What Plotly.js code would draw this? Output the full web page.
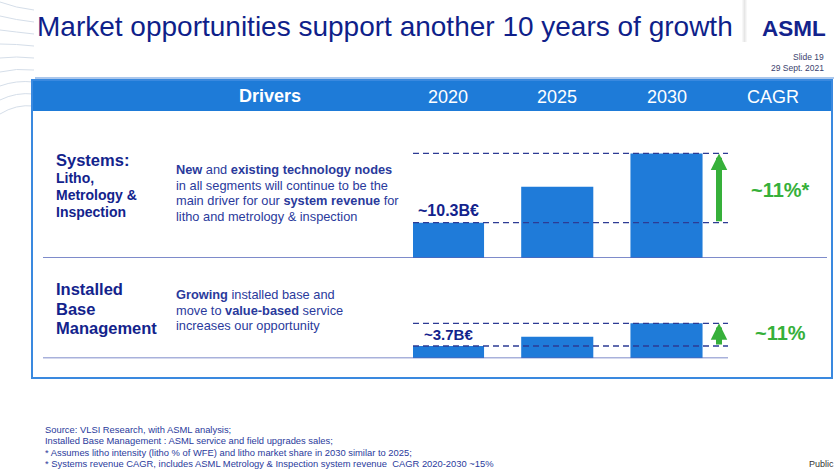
<!DOCTYPE html>
<html>
<head>
<meta charset="utf-8">
<script src="https://cdn.plot.ly/plotly-3.0.1.min.js"></script>
<style>html,body{margin:0;padding:0;background:#fff;}#chart{width:840px;height:473px;}</style>
</head>
<body>
<div id="chart"></div>
<script>
// ---- data ----
const years = ['2020', '2025', '2030'];
const systemsValues = [10.3, 20.8, 30.5];   // B€ (2020 labelled ~10.3B€)
const ibValues = [3.7, 6.5, 10.5];          // B€ (2020 labelled ~3.7B€)
const startLabels = ['~10.3B€', '~3.7B€'];
const cagrLabels = ['~11%*', '~11%'];
const headerDriver = 'Drivers';
const headerCagr = 'CAGR';
const titleText = 'Market opportunities support another 10 years of growth';
const systemsName = ['Systems:', 'Litho,', 'Metrology &', 'Inspection'];
const systemsText = ['<b>New</b> and <b>existing technology nodes</b>',
  'in all segments will continue to be the',
  'main driver for our <b>system revenue</b> for',
  'litho and metrology &amp; inspection'];
const ibName = ['Installed', 'Base', 'Management'];
const ibText = ['<b>Growing</b> installed base and',
  'move to <b>value-based</b> service',
  'increases our opportunity'];
const footnotes = ['Source: VLSI Research, with ASML analysis;',
  'Installed Base Management : ASML service and field upgrades sales;',
  '* Assumes litho intensity (litho % of WFE) and litho market share in 2030 similar to 2025;',
  '* Systems revenue CAGR, includes ASML Metrology &amp; Inspection system revenue  CAGR 2020-2030 ~15%'];

// ---- layout helpers (pixel -> paper) ----
const W = 840, H = 473;
const px = x => x / W;
const py = y => 1 - y / H;
const FONT = 'Liberation Sans, Arial, Helvetica, sans-serif';
const NAVY = '#13238c';
const TXT = '#2a3a9c';
const BLUE = '#1f7bd9';
const GREEN = '#36b03a';
const DASH = '#2d3b94';

const xLeft = 413, xRight = 728, c0 = 448, step = 109.25;
const xRange = [(xLeft - c0) / step, (xRight - c0) / step];
const arrowX = (719 - c0) / step;

const traces = [
  {type: 'bar', x: years, y: systemsValues, xaxis: 'x', yaxis: 'y', width: 0.66,
   marker: {color: BLUE, line: {width: 0}}, hoverinfo: 'skip'},
  {type: 'bar', x: years, y: ibValues, xaxis: 'x', yaxis: 'y2', width: 0.66,
   marker: {color: BLUE, line: {width: 0}}, hoverinfo: 'skip'}
];

const shapes = [];
const ann = [];

// decorative swooshes top-left
for (let i = 0; i < 9; i++) {
  const y0 = 8 + i * 12;
  shapes.push({type: 'path', xref: 'paper', yref: 'paper', layer: 'below',
    path: `M 0 ${py(y0 - 6 + i * 2)} Q ${px(16)} ${py(y0)} ${px(34)} ${py(y0 + 2)}`,
    line: {color: '#d5dee9', width: 1}});
}
// soft shadow left of logo
['#f7f7f7', '#efefef', '#e6e6e6', '#efefef', '#f7f7f7'].forEach((c, i) => {
  shapes.push({type: 'rect', xref: 'paper', yref: 'paper', x0: px(742 + i), x1: px(743 + i), y0: py(0), y1: py(42),
    fillcolor: c, line: {width: 0}, layer: 'below'});
});
// line under title
shapes.push({type: 'line', xref: 'paper', yref: 'paper', x0: px(35), x1: px(834), y0: py(78), y1: py(78),
  line: {color: '#8fb5e6', width: 1.5}});
// header bar and box
shapes.push({type: 'rect', xref: 'paper', yref: 'paper', x0: px(32), x1: px(832), y0: py(80), y1: py(111),
  fillcolor: '#1e7bd8', line: {width: 0}});
shapes.push({type: 'rect', xref: 'paper', yref: 'paper', x0: px(32), x1: px(832), y0: py(80), y1: py(378),
  fillcolor: 'rgba(0,0,0,0)', line: {color: '#3a89df', width: 2}});
// separators / baselines
shapes.push({type: 'line', xref: 'paper', yref: 'y', x0: px(43), x1: px(827), y0: 0, y1: 0,
  line: {color: '#5365b8', width: 1.5}});
shapes.push({type: 'line', xref: 'paper', yref: 'y2', x0: px(43), x1: px(728), y0: 0, y1: 0,
  line: {color: '#5365b8', width: 1.5}});
// dashed reference lines
[[systemsValues, 'y'], [ibValues, 'y2']].forEach(([vals, ya]) => {
  [vals[0], vals[vals.length - 1]].forEach(v => {
    shapes.push({type: 'line', xref: 'x domain', yref: ya, x0: 0, x1: 1, y0: v, y1: v,
      line: {color: DASH, width: 1.3, dash: '6px,4px'}});
  });
});

// arrows
[[systemsValues, 'y'], [ibValues, 'y2']].forEach(([vals, ya]) => {
  ann.push({xref: 'x', yref: ya, axref: 'x', ayref: ya, x: arrowX, y: vals[vals.length - 1],
    ax: arrowX, ay: vals[0], text: '', showarrow: true, arrowhead: 2, arrowsize: 0.55,
    arrowwidth: 6, arrowcolor: GREEN, standoff: 0, startstandoff: 0});
});

// value labels (category axis: annotations use category index)
ann.push({xref: 'x', yref: 'y', x: 0, y: systemsValues[0], yshift: 12, text: '<b>' + startLabels[0] + '</b>',
  showarrow: false, font: {family: FONT, size: 16, color: NAVY}, xanchor: 'center', yanchor: 'middle'});
ann.push({xref: 'x', yref: 'y2', x: 0, y: ibValues[0], yshift: 11, text: '<b>' + startLabels[1] + '</b>',
  showarrow: false, font: {family: FONT, size: 15, color: NAVY}, xanchor: 'center', yanchor: 'middle'});
// CAGR labels
ann.push({xref: 'paper', yref: 'paper', x: px(780), y: py(190), text: '<b>' + cagrLabels[0] + '</b>',
  showarrow: false, font: {family: FONT, size: 20, color: GREEN}, xanchor: 'center', yanchor: 'middle'});
ann.push({xref: 'paper', yref: 'paper', x: px(780), y: py(333), text: '<b>' + cagrLabels[1] + '</b>',
  showarrow: false, font: {family: FONT, size: 20, color: GREEN}, xanchor: 'center', yanchor: 'middle'});

// header texts
ann.push({xref: 'paper', yref: 'paper', x: px(270), y: py(96), text: '<b>' + headerDriver + '</b>',
  showarrow: false, font: {family: FONT, size: 18, color: '#ffffff'}, xanchor: 'center', yanchor: 'middle'});
years.forEach((yr, i) => {
  ann.push({xref: 'x', yref: 'paper', x: i, y: py(97), text: yr, showarrow: false,
    font: {family: FONT, size: 18, color: '#ffffff'}, xanchor: 'center', yanchor: 'middle'});
});
ann.push({xref: 'paper', yref: 'paper', x: px(773), y: py(97), text: headerCagr, showarrow: false,
  font: {family: FONT, size: 18, color: '#ffffff'}, xanchor: 'center', yanchor: 'middle'});

// left labels
const sysY = [160, 178, 195, 212];
systemsName.forEach((t, i) => {
  ann.push({xref: 'paper', yref: 'paper', x: px(54), y: py(sysY[i]), text: '<b>' + t + '</b>', showarrow: false,
    font: {family: FONT, size: i === 0 ? 16.5 : 14, color: NAVY}, xanchor: 'left', yanchor: 'middle'});
});
const sysTY = [169, 185, 201, 216];
systemsText.forEach((t, i) => {
  ann.push({xref: 'paper', yref: 'paper', x: px(174), y: py(sysTY[i]), text: t, showarrow: false,
    font: {family: FONT, size: 12.8, color: TXT}, xanchor: 'left', yanchor: 'middle'});
});
const ibY = [289, 309, 328];
ibName.forEach((t, i) => {
  ann.push({xref: 'paper', yref: 'paper', x: px(54), y: py(ibY[i]), text: '<b>' + t + '</b>', showarrow: false,
    font: {family: FONT, size: 16.5, color: NAVY}, xanchor: 'left', yanchor: 'middle'});
});
const ibTY = [294, 310, 325];
ibText.forEach((t, i) => {
  ann.push({xref: 'paper', yref: 'paper', x: px(174), y: py(ibTY[i]), text: t, showarrow: false,
    font: {family: FONT, size: 12.8, color: TXT}, xanchor: 'left', yanchor: 'middle'});
});

// logo + slide info
ann.push({xref: 'paper', yref: 'paper', x: px(828), y: py(28), text: '<b>ASML</b>', showarrow: false,
  font: {family: FONT, size: 22.5, color: NAVY}, xanchor: 'right', yanchor: 'middle'});
ann.push({xref: 'paper', yref: 'paper', x: px(826), y: py(57), text: 'Slide 19', showarrow: false,
  font: {family: FONT, size: 8.5, color: '#3b3f6e'}, xanchor: 'right', yanchor: 'middle'});
ann.push({xref: 'paper', yref: 'paper', x: px(826), y: py(68.5), text: '29 Sept. 2021', showarrow: false,
  font: {family: FONT, size: 8.5, color: '#3b3f6e'}, xanchor: 'right', yanchor: 'middle'});

// footnotes
const fnY = [429, 440.5, 452, 463.5];
footnotes.forEach((t, i) => {
  ann.push({xref: 'paper', yref: 'paper', x: px(43), y: py(fnY[i]), text: t, showarrow: false,
    font: {family: FONT, size: 9.4, color: TXT}, xanchor: 'left', yanchor: 'middle'});
});
ann.push({xref: 'paper', yref: 'paper', x: px(836), y: py(463.5), text: 'Public', showarrow: false,
  font: {family: FONT, size: 9, color: '#333333'}, xanchor: 'right', yanchor: 'middle'});

const sysBase = 258, sysScale = 3.43, sysMax = 40;
const ibBase = 358.3, ibScale = 3.33, ibMax = 12;

const layout = {
  width: W, height: H,
  margin: {l: 0, r: 0, t: 0, b: 0, pad: 0},
  paper_bgcolor: '#ffffff', plot_bgcolor: 'rgba(0,0,0,0)',
  showlegend: false,
  title: {text: titleText, x: px(37), xanchor: 'left', xref: 'paper', y: py(26), yref: 'paper', yanchor: 'middle',
    font: {family: FONT, size: 28, color: '#0f1f8a'}},
  xaxis: {type: 'category', domain: [px(xLeft), px(xRight)], range: xRange, visible: false, fixedrange: true},
  yaxis: {domain: [py(sysBase), py(sysBase - sysScale * sysMax)], range: [0, sysMax], visible: false, fixedrange: true},
  yaxis2: {domain: [py(ibBase), py(ibBase - ibScale * ibMax)], range: [0, ibMax], visible: false, anchor: 'x', fixedrange: true},
  shapes: shapes,
  annotations: ann
};

Plotly.newPlot('chart', traces, layout, {displayModeBar: false, staticPlot: true});
</script>
</body>
</html>
